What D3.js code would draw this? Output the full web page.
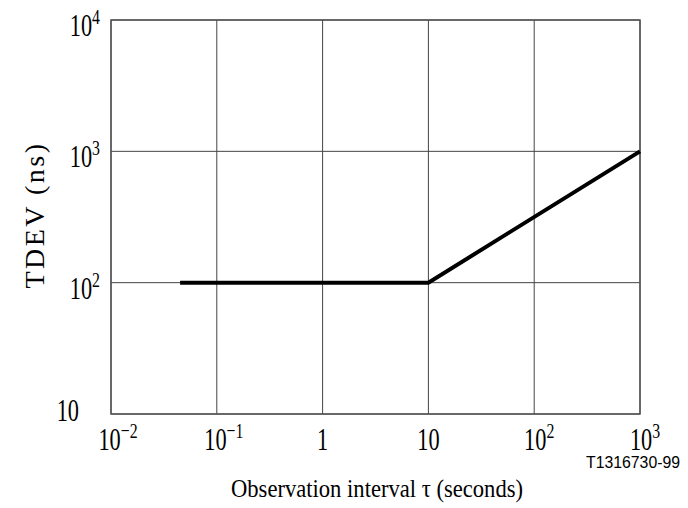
<!DOCTYPE html>
<html>
<head>
<meta charset="utf-8">
<script src="https://cdn.jsdelivr.net/npm/d3@7"></script>
<style>
  body { margin: 0; background: #fff; }
  svg { display: block; }
  text { font-family: "Liberation Serif", "Times New Roman", serif; fill: #000; }
  text.fig-id { font-family: "Liberation Sans", Arial, sans-serif; }
</style>
</head>
<body>
<div id="chart"></div>
<script>
// TDEV mask: observation interval (s) vs TDEV (ns)
const tauPoints = [0.045, 10, 1000];
const tdevPoints = [100, 100, 1000];

// Tick values (decades)
const xTickValues = [0.01, 0.1, 1, 10, 100, 1000];
const yTickValues = [10, 100, 1000, 10000];

const W = 688, H = 508;
const margin = { top: 20, right: 48, bottom: 94, left: 111 };

const svg = d3.select("#chart").append("svg")
  .attr("width", W)
  .attr("height", H);

const x = d3.scaleLog().domain([0.01, 1000]).range([margin.left, W - margin.right]);
const y = d3.scaleLog().domain([10, 10000]).range([H - margin.bottom, margin.top]);

// Grid lines
svg.append("g")
  .selectAll("line")
  .data(xTickValues)
  .join("line")
  .attr("x1", d => x(d)).attr("x2", d => x(d))
  .attr("y1", y(10000)).attr("y2", y(10))
  .attr("stroke", "#444").attr("stroke-width", 1);

svg.append("g")
  .selectAll("line")
  .data(yTickValues)
  .join("line")
  .attr("x1", x(0.01)).attr("x2", x(1000))
  .attr("y1", d => y(d)).attr("y2", d => y(d))
  .attr("stroke", "#444").attr("stroke-width", 1);

// Frame
svg.append("rect")
  .attr("x", x(0.01)).attr("y", y(10000))
  .attr("width", x(1000) - x(0.01))
  .attr("height", y(10) - y(10000))
  .attr("fill", "none")
  .attr("stroke", "#555")
  .attr("stroke-width", 1.5);

// Mask line
const line = d3.line().x((d, i) => x(tauPoints[i])).y((d, i) => y(tdevPoints[i]));
svg.append("path")
  .datum(tauPoints)
  .attr("d", line)
  .attr("fill", "none")
  .attr("stroke", "#000")
  .attr("stroke-width", 4)
  .attr("stroke-linejoin", "miter");

// Power-of-ten label: "10" with superscript exponent, condensed like the original
function powLabel(g, v) {
  const e = Math.round(Math.log10(v));
  const t = g.append("text").attr("font-size", 31);
  if (e === 0) { t.text("1"); return t; }
  if (e === 1) { t.text("10"); return t; }
  t.append("tspan").text("10");
  t.append("tspan").attr("font-size", 22).attr("dy", -12).text(e < 0 ? "\u2212" + (-e) : e);
  return t;
}

// X tick labels
xTickValues.forEach(v => {
  const shift = Math.log10(v) < 0 ? 7 : (v >= 100 ? 5 : 0);
  const g = svg.append("g")
    .attr("transform", `translate(${x(v) + shift},${y(10) + 36}) scale(0.72,1)`);
  powLabel(g, v).attr("text-anchor", "middle");
});

// Y tick labels
yTickValues.forEach(v => {
  const g = svg.append("g")
    .attr("transform", `translate(${x(0.01) - (v === 10 ? 32 : 11)},${y(v) + (v === 10 ? 7 : 16)}) scale(0.72,1)`);
  powLabel(g, v).attr("text-anchor", "end");
});

// Axis titles
svg.append("text")
  .attr("x", 377).attr("y", 497)
  .attr("text-anchor", "middle")
  .attr("font-size", 26)
  .attr("textLength", 292)
  .attr("lengthAdjust", "spacingAndGlyphs")
  .text("Observation interval \u03c4 (seconds)");

svg.append("text")
  .attr("transform", `translate(44,${(y(10) + y(10000)) / 2 - 2}) rotate(-90)`)
  .attr("text-anchor", "middle")
  .attr("font-size", 28)
  .attr("letter-spacing", 2.5)
  .text("TDEV (ns)");

// Figure id
svg.append("text")
  .attr("class", "fig-id")
  .attr("x", 586).attr("y", 468)
  .attr("font-size", 16)
  .attr("textLength", 94)
  .attr("lengthAdjust", "spacingAndGlyphs")
  .text("T1316730-99");
</script>
</body>
</html>
